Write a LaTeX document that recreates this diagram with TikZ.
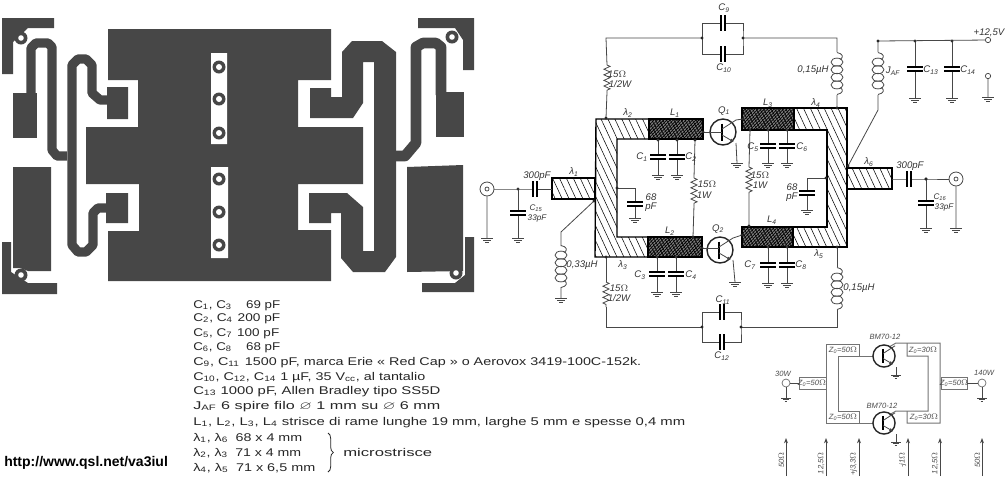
\documentclass[tikz,border=0pt]{standalone}
\usepackage{amsmath,amssymb}
\usepackage{fontspec}
\setmainfont{Liberation Sans}
\usetikzlibrary{patterns.meta, decorations.pathmorphing, decorations.pathreplacing, arrows.meta}
\newcommand{\sbs}[1]{\textsubscript{#1}}
\tikzset{
  pcb/.style={fill=black!72,draw=none},
  wire/.style={draw=black!72,line width=.6pt},
  blockline/.style={draw=black!55,line width=.75pt},
  strip/.style={draw=black,line width=1.05pt,pattern={Lines[angle=-65,distance=4.7pt,line width=.4pt]}},
  stripdark/.style={draw=black,line width=1.05pt,fill=black!50,
    postaction={pattern={Lines[angle=45,distance=1.7pt,line width=.55pt]}},
    postaction={pattern={Lines[angle=-60,distance=2.4pt,line width=.5pt]}}},
  reszig/.style={wire,decorate,decoration={zigzag,amplitude=2.3pt,segment length=4.2pt}},
  lab/.style={inner sep=0pt,font=\fontsize{7.2}{8}\selectfont\itshape,text=black!80},
  labsmall/.style={inner sep=0pt,font=\fontsize{6.1}{7}\selectfont\itshape,text=black!80},
  zlab/.style={inner sep=0pt,font=\fontsize{5.7}{7}\selectfont\itshape,text=black!70},
  partline/.style={anchor=base west,inner sep=0pt,text=black!85,font=\fontsize{8.4}{10}\selectfont},
  term/.style={circle,draw=black!72,line width=.55pt,fill=white,inner sep=0pt,minimum size=4pt},
  bnc/.style={circle,draw=black!72,line width=.6pt,fill=white,inner sep=0pt,minimum size=10.5pt},
  capv/.pic={\fill[white] (-8,-2) rectangle (8,2);
    \fill[black] (-8,-3) rectangle (8,-1.3); \fill[black] (-8,1.3) rectangle (8,3);},
  caph/.pic={\fill[white] (-2,-8) rectangle (2,8);
    \fill[black] (-3,-8) rectangle (-1.3,8); \fill[black] (1.3,-8) rectangle (3,8);},
  gnd/.pic={\draw[wire] (-6,0) -- (6,0) (-4,2.2) -- (4,2.2) (-1.8,4.4) -- (1.8,4.4);},
  coilv/.pic={\foreach \t in {-11.4,-3.8,3.8,11.4} \draw[wire] (0,\t) ellipse (6 and 4);
    \draw[wire] (0,-21) .. controls (6,-20) and (7,-16) .. (3,-14)
      (0,21) .. controls (6,20) and (7,16) .. (3,14);},
  bjt/.pic={\draw[line width=1.05pt,black!85] (0,0) circle (13);
    \draw[line width=1.5pt] (-1,-8.5) -- (-1,8.5);
    \draw[wire] (-1,-3) -- (13,-12);
    \draw[wire,-{Latex[length=3pt,width=2.5pt]}] (-1,3) -- (11,10);},
}
\begin{document}
\begin{tikzpicture}[x=.75pt,y=-.75pt]
  \useasboundingbox (0,0) rectangle (1007,476);
  \clip (0,0) rectangle (1007,476);
  % printed circuit
  \fill[pcb] (108,29) -- (331,29) -- (331,80) -- (298,80) -- (298,127) -- (363,127) -- (363,184) -- (298,184)
    -- (298,230) -- (331,230) -- (331,281) -- (108,281) -- (108,231) -- (139,231) -- (139,184) -- (86,184)
    -- (86,127) -- (138,127) -- (138,80) -- (108,80) -- cycle;
  \fill[white] (211,53) rectangle (227,144) (211,167) rectangle (228,258);
  \foreach \y in {67,99,133,179,212,245} {
    \fill[pcb] (219,\y) circle (6.5);
    \fill[white] (219,\y) circle (3);
  }
  \fill[pcb] (107,87) rectangle (128,119) (106,193) rectangle (128,223);
  \draw[black!72,line width=7pt,line join=round] (107,100) -- (100,100) -- (92,93) -- (92,65) -- (86,59) -- (78,59) -- (72,65)
    -- (72,245) -- (78,252) -- (86,252) -- (93,245) -- (93,213) -- (98,208) -- (107,208);
  \draw[black!72,line width=7pt,line join=round] (67,156) -- (57,156) -- (52,150) -- (52,47) -- (48,43) -- (36,43) -- (31,48) -- (31,95);
  \fill[pcb] (13,93) rectangle (37,138);
  \fill[pcb] (2,18) -- (54,18) -- (54,28) -- (28,28) -- (13,42) -- (13,74) -- (2,74) -- cycle;
  \fill[pcb] (13,167) -- (51,167) -- (51,271) -- (28,271) -- (20,268) -- (13,268) -- cycle;
  \fill[pcb] (2,242) -- (11,242) -- (11,272) -- (28,283) -- (57,283) -- (57,294) -- (2,294) -- cycle;
  \fill[pcb] (342,52) -- (352,41) -- (382,41) -- (396,52) -- (396,257) -- (385,272) -- (353,272) -- (341,258)
    -- (341,213) -- (331,213) -- (331,223) -- (309,223) -- (309,193) -- (347,193) -- (363,207) -- (363,251)
    -- (374,251) -- (374,62) -- (363,62) -- (363,103) -- (353,118) -- (310,118) -- (310,88) -- (331,88)
    -- (331,97) -- (342,97) -- cycle;
  \draw[black!72,line width=8pt,line join=round] (396,156) -- (405,156) -- (416,143) -- (416,47) -- (423,43) -- (436,43) -- (441,47) -- (441,95);
  \fill[pcb] (436,92) -- (464,92) -- (464,137) -- (436,137) -- cycle;
  \fill[pcb] (407,167) -- (463,165) -- (463,271) -- (407,272) -- cycle;
  \fill[pcb] (418,18) -- (474,18) -- (474,70) -- (463,70) -- (463,40) -- (455,28) -- (418,28) -- cycle;
  \fill[pcb] (465,237) -- (474,237) -- (474,292) -- (422,292) -- (422,283) -- (455,283) -- (465,275) -- cycle;
  \foreach \x/\y in {21/38,452/37,21/275,456/273} {
    \fill[pcb] (\x,\y) circle (6.5);
    \fill[white] (\x,\y) circle (2.8);
  }
  % strips
  \draw[strip] (552,178) rectangle (595,199);
  \draw[strip] (847,168) rectangle (892,189);
  \draw[strip] (596,119) -- (649,119) -- (649,139) -- (617,139) -- (617,237) -- (648,237) -- (648,257) -- (595,257) -- cycle;
  \draw[strip] (794,108) -- (847,108) -- (847,247) -- (793,247) -- (793,227) -- (827,227) -- (827,130) -- (794,130) -- cycle;
  \draw[stripdark] (649,119) rectangle (703,139);
  \draw[stripdark] (648,237) rectangle (702,257);
  \draw[stripdark] (742,108) rectangle (794,130);
  \draw[stripdark] (742,227) rectangle (793,247);
  % junctions
  \foreach \n/\x/\y in {a/606/118,b/702/38,c/743/38,d/837/108,e/702/327,f/741/327,g/606/257,h/837/247,
    i/518/189,j/926/179,k/915/41,l/952/41,m/878/41,n/848/166,o/594/201,p/695/140,r/693/237,
    s/750/130,u/749/226,v/617/188,w/826/178} {
    \coordinate (\n) at (\x,\y);
  }
  \coordinate (t1) at (702,23);  \coordinate (t2) at (743,23);
  \coordinate (t3) at (702,54);  \coordinate (t4) at (743,54);
  \coordinate (t5) at (702,312); \coordinate (t6) at (741,312);
  \coordinate (t7) at (702,342); \coordinate (t8) at (741,342);
  \coordinate (top1) at (606,38);  \coordinate (top2) at (837,38);
  \coordinate (low1) at (606,327); \coordinate (low2) at (837,327);
  \coordinate (la1) at (837,52); \coordinate (la2) at (837,95);
  \coordinate (lb1) at (837,267); \coordinate (lb2) at (837,310);
  \coordinate (lc1) at (878,52); \coordinate (lc2) at (878,95);
  \coordinate (ld1) at (561,246); \coordinate (ld2) at (561,287);
  \coordinate (ra1) at (607,65);  \coordinate (ra2) at (607,92);
  \coordinate (rb1) at (606,282); \coordinate (rb2) at (606,307);
  \coordinate (rc1) at (694,178); \coordinate (rc2) at (694,205);
  \coordinate (rd1) at (749,167); \coordinate (rd2) at (749,193);
  \draw[wire] (a) -- (ra2) (ra1) -- (top1) -- (b) (c) -- (top2) -- (la1) (la2) -- (d);
  \draw[wire] (g) -- (rb1) (rb2) -- (low1) -- (e) (f) -- (low2) -- (lb2) (lb1) -- (h);
  \draw[wire] (b) -- (t1) -- (t2) -- (c) -- (t4) -- (t3) -- (b);
  \draw[wire] (e) -- (t5) -- (t6) -- (f) -- (t8) -- (t7) -- (e);
  \pic at (723,23) {caph}; \pic at (723,54) {caph};
  \pic at (722,312) {caph}; \pic at (722,342) {caph};
  % resistors
  \foreach \n in {a,b,c,d} \draw[reszig] (r\n1) -- (r\n2);
  % terminals
  \node[bnc] (inp) at (487,189) {};
  \node[term,minimum size=3pt] (inpc) at (487,189) {};
  \node[bnc] (outp) at (956,179) {};
  \node[term,minimum size=3pt] (outc) at (956,179) {};
  \node[term] (vcc) at (988,40) {};
  \node[term] (vgnd) at (988,76) {};
  \coordinate (inpg) at (487,238);
  \coordinate (outg) at (956,228);
  \coordinate (vgndg) at (988,97);
  \coordinate (lam1) at (552,189);
  \coordinate (lam6) at (892,179);
  \draw[wire] (inp) -- (i) -- (lam1) (lam6) -- (j) -- (outp);
  \draw[wire] (inp) -- (inpg) (outp) -- (outg) (vgnd) -- (vgndg) (m) -- (vcc);
  \pic at (535,189) {caph}; \pic at (909,179) {caph};
  \pic at (inpg) {gnd}; \pic at (outg) {gnd}; \pic at (vgndg) {gnd};
  % coils
  \coordinate (ldg) at (561,298);
  \pic at (837,73.5) {coilv}; \pic at (837,288.5) {coilv}; \pic at (878,73.5) {coilv}; \pic at (561,266.5) {coilv};
  \draw[wire] (m) -- (lc1) (lc2) -- (878,110) -- (n) (o) -- (561,232) -- (ld1) (ld2) -- (ldg);
  \pic at (ldg) {gnd};
  % capacitors to ground
  \foreach \i/\x/\yt/\yc/\yg in {1/658/140/157/175, 2/677/140/157/175, 3/657/257/274/292, 4/676/257/274/292,
    5/768/130/146/163, 6/787/130/146/163, 7/768/247/265/283, 8/787/247/265/283,
    9/518/189/213/238, 10/926/179/203/228, 11/915/41/69/98, 12/952/41/69/98} {
    \coordinate (capt\i) at (\x,\yt);
    \coordinate (capg\i) at (\x,\yg);
    \draw[wire] (capt\i) -- (capg\i);
    \pic at (\x,\yc) {capv};
    \pic at (capg\i) {gnd};
    \fill[black!80] (capt\i) circle (1.7);
  }
  \coordinate (vr) at (635,188); \coordinate (vg) at (635,218);
  \coordinate (wr) at (807,178); \coordinate (wg) at (807,210);
  \draw[wire] (v) -- (vr) -- (vg) (w) -- (wr) -- (wg);
  \pic at (635,204) {capv}; \pic at (807,193) {capv};
  \pic at (vg) {gnd}; \pic at (wg) {gnd};
  % transistors
  \pic at (723,132) {bjt};
  \pic at (720,250) {bjt};
  \coordinate (q1c) at (736,120); \coordinate (q1e) at (736,143); \coordinate (q1g) at (737,163);
  \coordinate (q2c) at (733,238); \coordinate (q2e) at (733,260); \coordinate (q2g) at (735,282);
  \coordinate (l1e) at (703,132); \coordinate (l2e) at (702,248);
  \coordinate (l3e) at (743,119); \coordinate (l4e) at (742,235);
  \draw[wire] (l1e) -- (722,132) (l2e) -- (719,248);
  \draw[wire] (q1c) -- (l3e) (q2c) -- (l4e) (q1e) -- (q1g) (q2e) -- (q2g);
  \pic at (q1g) {gnd}; \pic at (q2g) {gnd};
  \draw[wire] (p) -- (rc1) (rc2) -- (r) (s) -- (rd1) (rd2) -- (u);
  \foreach \n in {a,b,c,d,e,f,g,h,j,m,n,o,p,r,s,u,v,w,l1e,l2e,l3e,l4e} \fill[black!85] (\n) circle (1.7);
  % labels
  \foreach \n/\x/\y/\t in {la/724/8/C\sbs{9}, lb/724/68/C\sbs{10}, lc/723/300/C\sbs{11}, ld/722/356/C\sbs{12},
    le/617/74/15$\Omega$, lf/620/84/{1/2W}, lg/619/288/15$\Omega$, lh/619/298/{1/2W},
    li/707/184/15$\Omega$, lj/704/195/1W, lk/760/175/15$\Omega$, ll/760/185/1W,
    lm/628/113/λ\sbs{2}, ln/675/113/L\sbs{1}, lo/724/111/Q\sbs{1}, lp/768/103/L\sbs{3}, lq/816/103/λ\sbs{4},
    lr/574/172/λ\sbs{1}, ls/869/162/λ\sbs{6}, lt/623/265/λ\sbs{3}, lu/819/254/λ\sbs{5},
    lv/670/231/L\sbs{2}, lw/772/220/L\sbs{4}, lx/718/229/Q\sbs{2},
    ly/642/157/C\sbs{1}, lz/691/157/C\sbs{2}, ma/640/275/C\sbs{3}, mb/691/275/C\sbs{4},
    mc/753/147/C\sbs{5}, md/802/147/C\sbs{6}, me/750/265/C\sbs{7}, mf/801/265/C\sbs{8},
    mg/537/176/300pF, mh/910/166/300pF,
    mm/651/197/68, mn/651/207/pF, mo/792/187/68, mp/792/197/pF,
    mq/813/70/{0,15µH}, mr/859/288/{0,15µH}, ms/582/265/{0,33µH}, mt/893/71/J\sbs{AF},
    mu/931/70/C\sbs{13}, mv/968/70/C\sbs{14}, mw/989/33/{+12,5V}} {
    \node[lab] (\n) at (\x,\y) {\t};
  }
  \foreach \n/\x/\y/\t in {mi/536/208/C\sbs{15}, mj/537/218/33pF, mk/940/197/C\sbs{16}, ml/944/207/33pF} {
    \node[labsmall] (\n) at (\x,\y) {\t};
  }
  % parts list
  \foreach \n/\y/\w/\t in {
    pa/308/87/{C\sbs{1}, C\sbs{3}\hspace{9pt}69 pF},
    pb/321/87/{C\sbs{2}, C\sbs{4}\hspace{3pt}200 pF},
    pc/336/86/{C\sbs{5}, C\sbs{7}\hspace{3pt}100 pF},
    pd/350/87/{C\sbs{6}, C\sbs{8}\hspace{9pt}68 pF},
    pe/365/448/{C\sbs{9}, C\sbs{11}\hspace{3pt}1500 pF, marca Erie « Red Cap » o Aerovox 3419-100C-152k.},
    pf/380/232/{C\sbs{10}, C\sbs{12}, C\sbs{14} 1 µF, 35 V\sbs{cc}, al tantalio},
    pg/394/247/{C\sbs{13} 1000 pF, Allen Bradley tipo SS5D},
    ph/409/247/{J\sbs{AF} 6 spire filo $\varnothing$ 1 mm su $\varnothing$ 6 mm},
    pi/425/492/{L\sbs{1}, L\sbs{2}, L\sbs{3}, L\sbs{4} strisce di rame lunghe 19 mm, larghe 5 mm e spesse 0,4 mm},
    pj/441/109/{λ\sbs{1}, λ\sbs{6}\hspace{2pt} 68 x 4 mm},
    pk/456/108/{λ\sbs{2}, λ\sbs{3}\hspace{2pt} 71 x 4 mm},
    pl/471/122/{λ\sbs{4}, λ\sbs{5}\hspace{2pt} 71 x 6,5 mm}} {
    \pgfmathsetlengthmacro{\linew}{\w*.75pt}
    \node[partline] (\n) at (193,\y) {\resizebox{\linew}{\height}{\t}};
  }
  \coordinate (brt) at (328,433);
  \coordinate (brb) at (328,472);
  \draw[black!85,line width=.6pt,decorate,decoration={brace,amplitude=4pt}] (brt) -- (brb);
  \pgfmathsetlengthmacro{\linew}{89*.75pt}
  \node[partline] (micro) at (343,456) {\resizebox{\linew}{\height}{microstrisce}};
  \node[anchor=west,inner sep=0pt,font=\fontsize{10.5}{11}\selectfont\bfseries] (url) at (4,463) {http://www.qsl.net/va3iul};
  % lower block
  \draw[blockline] (873,356) -- (838,356) -- (838,411) -- (859,411) -- (859,423) -- (826,423) -- (826,344) -- (859,344) -- (859,356);
  \draw[blockline] (873,423) -- (859,423);
  \draw[blockline] (889,347) -- (896,343) -- (940,343) -- (940,423) -- (907,423) -- (907,411);
  \draw[blockline] (889,415) -- (896,411) -- (928,411) -- (928,356) -- (907,356) -- (907,343);
  \draw[blockline,fill=white] (799,377) rectangle (826,389);
  \draw[blockline,fill=white] (941,377) rectangle (967,389);
  \pic[scale=.85] at (884,356) {bjt};
  \pic[scale=.85] at (884,423) {bjt};
  \node[term,minimum size=6pt,draw=black!55] (in30) at (786,383) {};
  \node[term,minimum size=6pt,draw=black!55] (out140) at (982,383) {};
  \coordinate (in30g) at (786,398); \coordinate (out140g) at (982,398);
  \coordinate (boxl) at (799,383); \coordinate (boxr) at (967,383);
  \coordinate (e1) at (896,367); \coordinate (e1g) at (896,375);
  \coordinate (e2) at (896,434); \coordinate (e2g) at (896,442);
  \draw[wire] (in30) -- (in30g) (in30) -- (boxl) (out140) -- (out140g) (out140) -- (boxr) (e1) -- (e1g) (e2) -- (e2g);
  \pic[scale=.8] at (in30g) {gnd}; \pic[scale=.8] at (out140g) {gnd}; \pic[scale=.8] at (e1g) {gnd}; \pic[scale=.8] at (e2g) {gnd};
  \foreach \n/\x/\y/\t in {za/812/383/50,zb/954/383/50,zc/843/350/50,zd/923/350/30,ze/843/417/50,zf/924/417/30} {
    \node[zlab] (\n) at (\x,\y) {Z\sbs{0}=\t$\Omega$};
  }
  \node[zlab] (bma) at (885,337) {BM70-12};
  \node[zlab] (bmb) at (882,406) {BM70-12};
  \node[zlab] (wa) at (783,374) {30W};
  \node[zlab] (wb) at (984,373) {140W};
  % arrows
  \foreach \n/\x/\t in {ka/786/50$\Omega$, kb/826/{12,5$\Omega$}, kc/859/{+j3,3$\Omega$}, kd/908/{-j1$\Omega$}, ke/940/{12,5$\Omega$}, kf/982/50$\Omega$} {
    \coordinate (\n t) at (\x,438);
    \coordinate (\n b) at (\x,476);
    \draw[wire,-{Stealth[length=4pt,width=3pt]}] (\n b) -- (\n t);
    \node[zlab,rotate=90,anchor=south east] (\n l) at (\x-1.5,452) {\t};
  }
\end{tikzpicture}
\end{document}
